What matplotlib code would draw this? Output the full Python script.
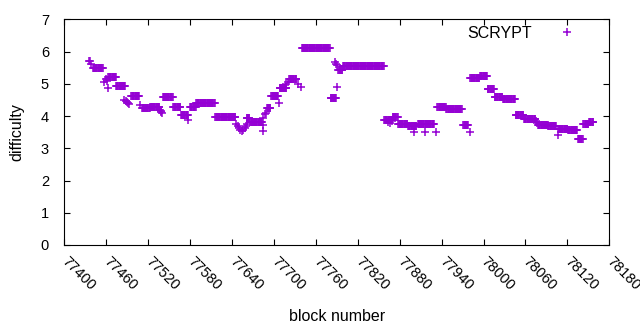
import numpy as np
import matplotlib
matplotlib.use("Agg")
import matplotlib.pyplot as plt

plt.rcParams['font.family'] = ['Liberation Sans', 'DejaVu Sans']

# Runs of constant difficulty: first block, last block (exclusive), difficulty
seg_start = [77441, 77463, 77474, 77496, 77511, 77523, 77541, 77556, 77567, 77580,
             77589, 77616, 77661, 77666, 77690, 77696, 77708, 77722, 77740, 77781,
             77792, 77799, 77858, 77870, 77878, 77892, 77906, 77934, 77947, 77971,
             77981, 77995, 78006, 78016, 78028, 78046, 78058, 78078, 78093, 78107,
             78121, 78135, 78143, 78151]
seg_end   = [77456, 77475, 77488, 77508, 77523, 77537, 77556, 77567, 77578, 77589,
             77616, 77646, 77666, 77684, 77696, 77707, 77719, 77733, 77781, 77790,
             77799, 77858, 77870, 77878, 77892, 77905, 77930, 77947, 77970, 77979,
             77995, 78006, 78016, 78028, 78046, 78058, 78075, 78093, 78105, 78121,
             78135, 78143, 78151, 78158]
seg_diff  = [5.48, 5.22, 4.92, 4.61, 4.24, 4.29, 4.59, 4.27, 4.03, 4.29,
             4.40, 3.96, 3.93, 3.81, 4.24, 4.61, 4.86, 5.14, 6.10, 4.55,
             5.43, 5.54, 3.88, 3.98, 3.75, 3.69, 3.74, 4.29, 4.21, 3.72,
             5.17, 5.25, 4.83, 4.60, 4.52, 4.03, 3.90, 3.71, 3.69, 3.59,
             3.56, 3.28, 3.74, 3.81]

# Individual blocks that do not sit in a run
odd_block = [77436, 77437, 77438, 77457, 77459, 77461, 77462,
             77486, 77488, 77490, 77491, 77492, 77508,
             77537, 77538, 77539, 77540, 77577,
             77646, 77648, 77650, 77652, 77654, 77656, 77658, 77660, 77662,
             77684, 77684, 77685, 77687, 77689, 77707,
             77718, 77720, 77735, 77739,
             77788, 77789, 77790, 77791,
             77863, 77866, 77869, 77900, 77916, 77932, 77980,
             78075, 78077, 78079, 78106]
odd_diff  = [5.71, 5.71, 5.62, 5.07, 5.15, 5.10, 4.88,
             4.50, 4.46, 4.42, 4.40, 4.38, 4.34,
             4.20, 4.15, 4.13, 4.10, 3.88,
             3.75, 3.68, 3.63, 3.57, 3.55, 3.57, 3.62, 3.68, 3.75,
             3.72, 3.55, 3.95, 4.05, 4.10, 4.41,
             4.98, 5.05, 4.99, 4.90,
             5.68, 5.62, 5.58, 4.91,
             3.82, 3.78, 3.85, 3.51, 3.51, 3.51, 3.50,
             3.85, 3.78, 3.72, 3.41]

x_ticks = list(range(77400, 78181, 60))
y_ticks = list(range(0, 8))

blocks = []
diffs = []
for s, e, d in zip(seg_start, seg_end, seg_diff):
    for b in range(s, e):
        blocks.append(b)
        diffs.append(d)
blocks += odd_block
diffs += odd_diff

fig = plt.figure(figsize=(6.4, 3.3), dpi=100)
ax = fig.add_axes([0.1005, 0.2576, 0.8515, 0.6839])

color = '#9400D3'
ax.plot(blocks, diffs, linestyle='none', marker='+', markersize=5.2,
        markeredgewidth=1.1, color=color, label='SCRYPT')

ax.set_xlim(77400, 78180)
ax.set_ylim(0, 7)
ax.set_xticks(x_ticks)
ax.set_yticks(y_ticks)
ax.set_xticklabels([str(t) for t in x_ticks], rotation=-45, ha='left', va='center',
                   rotation_mode='anchor')
ax.tick_params(direction='in', length=4, width=0.8, top=True, right=True,
               labelsize=10.5, colors='black')
ax.tick_params(axis='y', pad=11)
ax.tick_params(axis='x', pad=10)
for sp in ax.spines.values():
    sp.set_linewidth(0.8)
    sp.set_color('black')

ax.set_xlabel('block number', fontsize=11.5, labelpad=12)
ax.set_ylabel('difficulty', fontsize=11.5, labelpad=12)

leg = ax.legend(loc='upper right', bbox_to_anchor=(0.977, 1.02), frameon=False,
                markerfirst=False, fontsize=11.5, handlelength=2.3,
                handletextpad=1.05, borderaxespad=0.3)

fig.savefig('out.png', dpi=100)
